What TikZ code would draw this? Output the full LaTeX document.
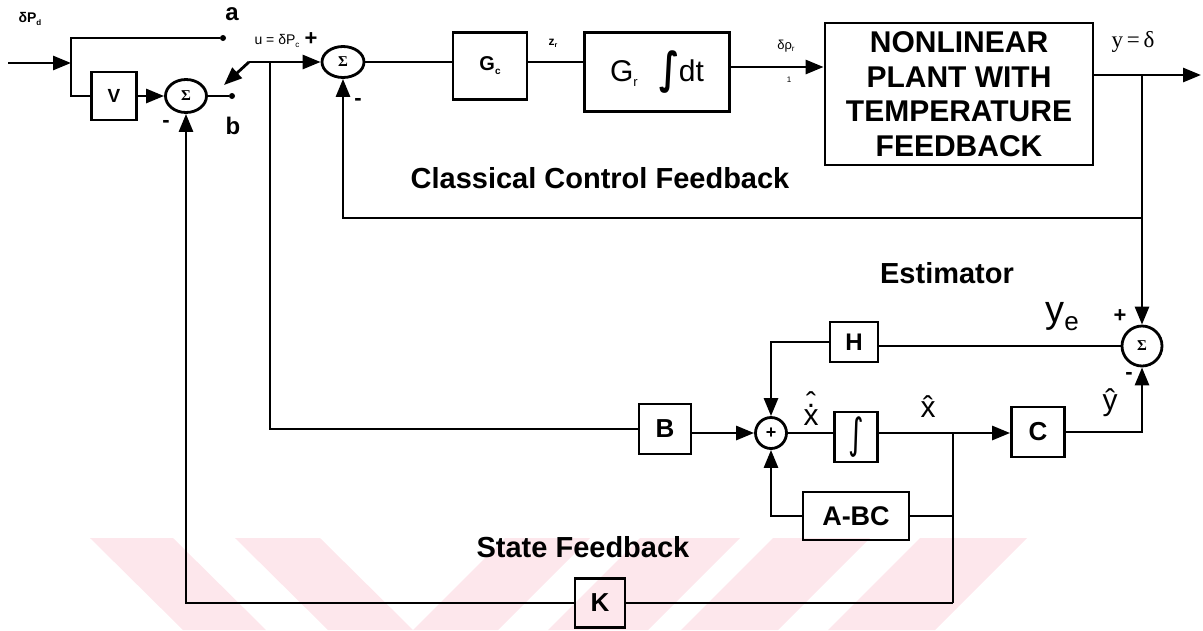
\documentclass[tikz,border=0pt]{standalone}
\usepackage{fontspec}
\setmainfont{Liberation Sans}
\newfontfamily\myserif{Liberation Serif}
\newfontfamily\mydejavu{DejaVu Sans}
\usetikzlibrary{arrows.meta,shapes.geometric,calc}
\definecolor{wmark}{RGB}{253,231,236}
\newcommand\myfs[1]{\fontsize{#1}{#1}\selectfont}
\begin{document}
\begin{tikzpicture}[x=1pt,y=-1pt,
  ln/.style={line width=2.8pt},
  arr/.style={line width=2.8pt,-{Triangle[length=18pt,width=14pt]}},
  blk/.style={draw,line width=2.8pt,inner sep=0pt,font=\bfseries},
  sumnode/.style={draw,line width=2.8pt,ellipse,inner sep=0pt,font=\myserif\bfseries\myfs{15}},
  dotnode/.style={circle,fill,inner sep=0pt,minimum size=6pt},
  lbl/.style={inner sep=0pt,font=\bfseries},
  bigl/.style={inner sep=0pt,font=\bfseries\myfs{29}}]
\useasboundingbox (0,0) rectangle (1203,630);
% watermark
\fill[wmark] (90,538) -- (173,538) -- (266,630) -- (183,630) -- cycle;
\fill[wmark] (235,538) -- (320,538) -- (413,630) -- (328,630) -- cycle;
\fill[wmark] (505,538) -- (590,538) -- (498,630) -- (413,630) -- cycle;
\fill[wmark] (640,538) -- (740,538) -- (648,630) -- (548,630) -- cycle;
\fill[wmark] (773,538) -- (870,538) -- (778,630) -- (681,630) -- cycle;
\fill[wmark] (920,538) -- (1027,538) -- (935,630) -- (828,630) -- cycle;

% nodes
\coordinate (in) at (8,63);
\coordinate (j1) at (71,63);
\node[dotnode] (adot) at (223,38) {};
\node[blk,minimum width=45pt,minimum height=48pt] (V) at (114,96) {\myfs{19}V};
\node[sumnode,minimum width=41pt,minimum height=33pt] (S1) at (186,96) {Σ};
\node[dotnode] (bdot) at (232,96) {};
\coordinate (ustart) at (249,62);
\coordinate (swtip) at (224,85);
\coordinate (ju) at (270,62);
\node[sumnode,minimum width=42pt,minimum height=31pt] (S2) at (343,62) {Σ};
\node[blk,minimum width=74pt,minimum height=67pt] (Gc) at (490,66) {\myfs{20}G\raisebox{-4pt}{\myfs{10}c}};
\node[blk,minimum width=145pt,minimum height=79pt,font=\mdseries] (Gr) at (657,72) {\myfs{30}G\raisebox{-5pt}{\myfs{13}r}\hspace{22pt}\raisebox{-2pt}{\scalebox{1.1}[1.45]{\mydejavu\bfseries\myfs{30}∫}}\hspace{-1pt}dt};
\node[blk,minimum width=268pt,minimum height=142pt,align=center,font=\bfseries\fontsize{30}{34.5}\selectfont] (P) at (959,94)
  {NONLINEAR\\PLANT WITH\\TEMPERATURE\\FEEDBACK};
\coordinate (out) at (1201,75);
\coordinate (jy) at (1142,75);
\coordinate (cf) at (1142,218);
\node[sumnode,circle,minimum size=40pt] (S3) at (1142,346) {Σ};
\node[blk,minimum width=48pt,minimum height=40pt] (H) at (854,342) {\myfs{24}H};
\node[draw,line width=2.8pt,circle,minimum size=31pt,inner sep=0pt,font=\bfseries\myfs{18}] (plus) at (771,433) {+};
\node[blk,minimum width=52pt,minimum height=50pt] (B) at (665,429) {\myfs{26}B};
\node[blk,minimum width=43pt,minimum height=50pt,font=\mdseries] (I) at (856,437) {\scalebox{1}[1.4]{\mydejavu\myfs{30}∫}};
\coordinate (jx) at (953,433);
\node[blk,minimum width=53pt,minimum height=50pt] (C) at (1038,432) {\myfs{26}C};
\node[blk,minimum width=106pt,minimum height=48pt] (ABC) at (856,516) {\myfs{27}A-BC};
\node[blk,minimum width=50pt,minimum height=49pt] (K) at (600,603) {\myfs{26}K};

% connectors
\draw[arr] (in) -- (j1);
\draw[ln] (j1) |- (adot);
\draw[ln] (j1) |- (V.west);
\draw[arr] (V) -- (S1);
\draw[ln] (S1) -- (bdot);
\draw[ln] (ustart) -- (ju);
\draw[arr] (ju) -- (S2);
\draw[arr] (ustart) -- (swtip);
\draw[ln] (ju) |- (B.west);
\draw[ln] (S2) -- (S2 -| Gc.west);
\draw[ln] (S2 -| Gc.east) -- (S2 -| Gr.west);
\coordinate (gro) at ([yshift=5pt]Gr.east);
\draw[arr] (gro) -- (gro -| P.west);
\draw[arr] (jy -| P.east) -- (out);
\draw[arr] (jy) -- (S3.north);
\draw[arr] (cf) -| (S2.south);
\draw[ln] (S3.west) -- (S3.west -| H.east);
\draw[arr] (H.west) -| (plus.north);
\draw[arr] (plus -| B.east) -- (plus.west);
\draw[ln] (plus.east) -- (plus -| I.west);
\draw[ln] (plus -| I.east) -- (jx);
\draw[arr] (jx) -- (jx -| C.west);
\draw[arr] (C.east) -| (S3.south);
\draw[ln] (jx) -- (jx |- K);
\draw[ln] (jx |- ABC) -- (ABC.east);
\draw[arr] (ABC.west) -| (plus.south);
\draw[ln] (jx |- K) -- (K.east);
\draw[arr] (K.west) -| (S1.south);

% labels
\node[lbl] (lpd) at (30,19) {\myfs{14}δP\raisebox{-3pt}{\myfs{8}d}};
\node[lbl] (la) at (232,14) {\myfs{24}a};
\node[lbl] (lb) at (233,126) {\myfs{24}b};
\node[lbl] (lm1) at (166,124) {\myfs{22}-};
\node[lbl,font=\mdseries] (lu) at (277,41) {\myfs{14}u = δP\raisebox{-3pt}{\myfs{8}c}};
\node[lbl] (lp2) at (311,39) {\myfs{22}+};
\node[lbl] (lm2) at (358,102) {\myfs{22}-};
\node[lbl] (lz) at (553,43) {\myfs{12}z\raisebox{-2pt}{\myfs{7}r}};
\node[lbl,font=\mdseries] (ldr) at (786,46) {\myfs{13}δρ\raisebox{-2pt}{\myfs{8}r}};
\node[lbl,font=\mdseries] (l1) at (789,80) {\myfs{8}1};
\node[inner sep=0pt] (lyd) at (1133,42) {\myserif\myfs{23}y\,=\,δ};
\node[bigl] (lccf) at (600,178) {Classical Control Feedback};
\node[bigl] (lest) at (947,273) {Estimator};
\node[inner sep=0pt] (lye) at (1062,317) {\myfs{38}y\raisebox{-8pt}{\myfs{26}e}};
\node[lbl] (lp3) at (1120,316) {\myfs{22}+};
\node[lbl] (lm3) at (1129,376) {\myfs{22}-};
\node[inner sep=0pt] (lyh) at (1110,403) {\myfs{30}\^{y}};
\node[inner sep=0pt,anchor=base] (lxd) at (811,425) {\myfs{30}\makebox[15pt]{x}\hspace{-15pt}\makebox[15pt]{\raisebox{18pt}{.}}\hspace{-15pt}\makebox[15pt]{\raisebox{12pt}{ˆ}}};
\node[inner sep=0pt] (lxh) at (928,407) {\myfs{30}\^{x}};
\node[bigl] (lsf) at (583,547) {State Feedback};
\end{tikzpicture}
\end{document}
